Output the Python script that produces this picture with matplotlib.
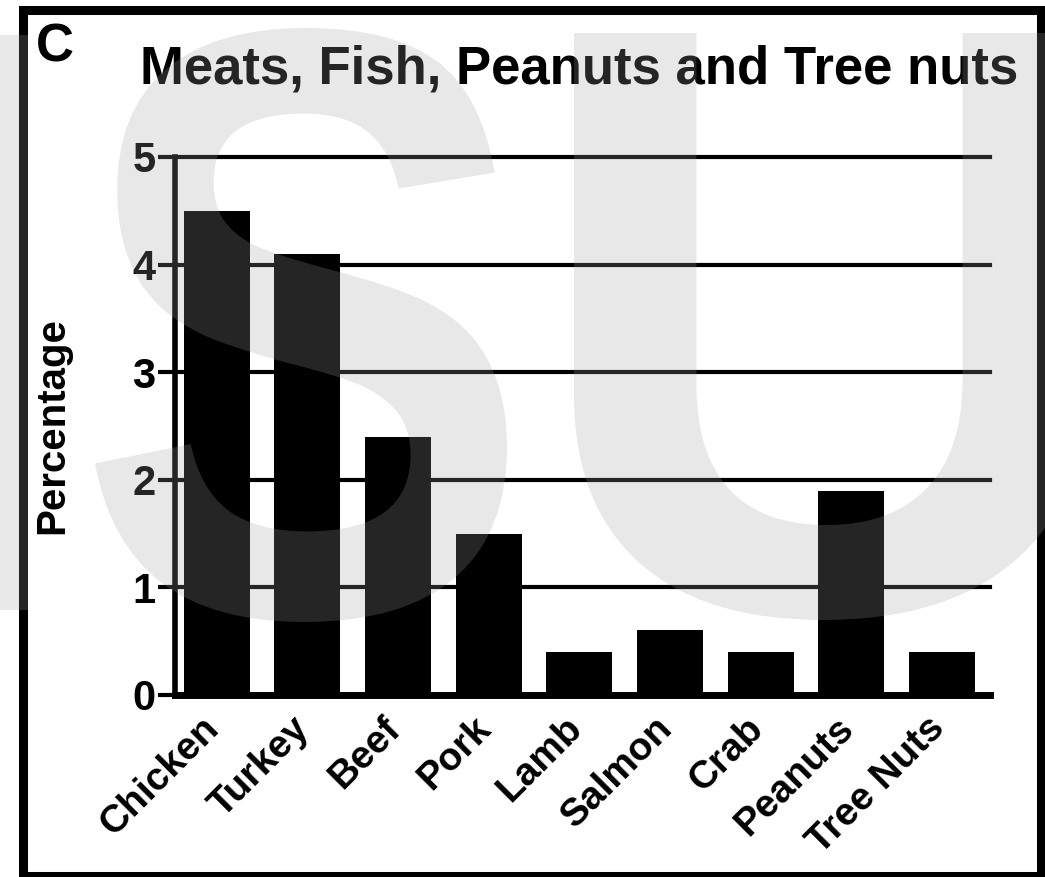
import matplotlib
matplotlib.use("Agg")
import matplotlib.pyplot as plt
from matplotlib.patches import PathPatch, Rectangle
from matplotlib.textpath import TextPath
from matplotlib.font_manager import FontProperties
from matplotlib.transforms import Affine2D, IdentityTransform, ScaledTranslation

foods = ["Chicken", "Turkey", "Beef", "Pork", "Lamb", "Salmon", "Crab", "Peanuts", "Tree Nuts"]
percentage = [4.5, 4.1, 2.4, 1.5, 0.4, 0.6, 0.4, 1.9, 0.4]
yticks = [0, 1, 2, 3, 4, 5]

plt.rcParams["font.family"] = ["Liberation Sans", "DejaVu Sans"]
plt.rcParams["font.weight"] = "bold"

W, H = 1045, 877
fig = plt.figure(figsize=(W / 100, H / 100), dpi=100)
ax = fig.add_axes([175 / W, 1 - 695 / H, 815 / W, 538 / H])

x = list(range(len(foods)))
ax.bar(x, percentage, width=0.73, color="black", zorder=3)

ax.set_xlim(-0.46, 8.53)
ax.set_ylim(0, 5)
ax.set_yticks(yticks)
ax.set_xticks(x)
ax.set_xticklabels(foods, rotation=45, ha="right", va="top", fontsize=28)
ax.tick_params(axis="y", length=12, width=3, pad=2, labelsize=30)
ax.tick_params(axis="x", length=0, pad=11)
for lab in ax.get_xticklabels():
    lab.set_transform(lab.get_transform() + ScaledTranslation(7 / 72, 0, fig.dpi_scale_trans))

ax.yaxis.grid(True, color="black", linewidth=3)
ax.set_axisbelow(True)
for gl in ax.get_ygridlines():
    gl.set_clip_on(False)

for s in ["top", "right"]:
    ax.spines[s].set_visible(False)
ax.spines["left"].set_linewidth(4)
ax.spines["bottom"].set_linewidth(5)

ax.set_ylabel("Percentage", fontsize=29, fontweight="bold")
ax.yaxis.set_label_coords(-0.127, 0.5)

fig.text(140 / W, 1 - 84 / H, "Meats, Fish, Peanuts and Tree nuts",
         fontsize=38, fontweight="bold", va="baseline", ha="left")
fig.text(36 / W, 1 - 61 / H, "C", fontsize=38, fontweight="bold", va="baseline", ha="left")

# panel frame
fig.add_artist(Rectangle((23, 1), 1018, H - 9.5 - 1, transform=IdentityTransform(),
                         fill=False, edgecolor="black", linewidth=6.5, zorder=5))

# watermark letters, drawn as a translucent overlay
fp = FontProperties(family="Liberation Sans", weight="bold")
wm_color = (0.625, 0.625, 0.625)


def letter(ch, x0, x1, top, bottom):
    p = TextPath((0, 0), ch, size=100, prop=fp)
    ext = p.get_extents()
    tr = (Affine2D().translate(-ext.x0, -ext.y0)
          .scale((x1 - x0) / ext.width, (bottom - top) / ext.height)
          .translate(x0, H - bottom))
    fig.add_artist(PathPatch(tr.transform_path(p), transform=IdentityTransform(),
                             facecolor=wm_color, edgecolor="none", alpha=0.24, zorder=10))


letter("S", 95, 507, 28, 622)
letter("U", 574, 1085, 33, 620)
fig.add_artist(Rectangle((0, H - 610), 28, 575, transform=IdentityTransform(),
                         facecolor=wm_color, edgecolor="none", alpha=0.24, zorder=10))

fig.savefig("out.png", dpi=100)
